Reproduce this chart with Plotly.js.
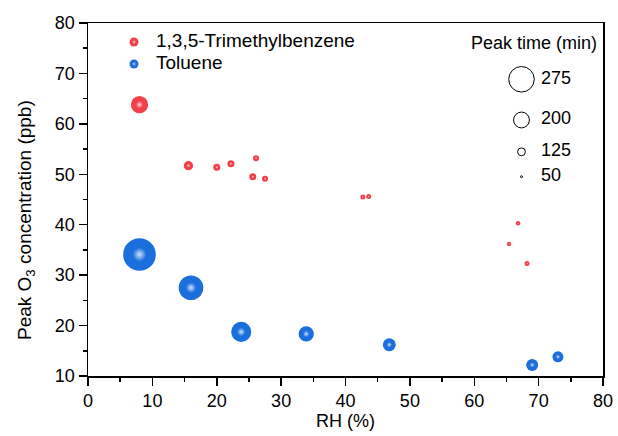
<!DOCTYPE html>
<html>
<head>
<meta charset="utf-8">
<script src="https://cdn.plot.ly/plotly-3.0.1.min.js"></script>
<style>html,body{margin:0;padding:0;background:#fff;}#chart{width:618px;height:436px;}</style>
</head>
<body>
<div id="chart"></div>
<script>
// ---- data ----
var tmbRH   = [8.0, 15.6, 20.0, 22.2, 26.1, 25.6, 27.5, 42.7, 43.6, 65.4, 66.8, 68.2];
var tmbO3   = [63.8, 51.7, 51.4, 52.1, 53.2, 49.5, 49.1, 45.5, 45.6, 36.2, 40.3, 32.3];
var tmbPeak = [212, 140, 116, 116, 105, 116, 105, 93, 93, 86, 86, 93];

var tolRH   = [8.0, 16.0, 23.8, 33.9, 46.8, 69.0, 73.0];
var tolO3   = [34.1, 27.5, 18.75, 18.35, 16.2, 12.2, 13.8];
var tolPeak = [324, 269, 234, 195, 175, 166, 157];

var sizeLegendValues = [275, 200, 125, 50];
var sizeLegendLabels = ['275', '200', '125', '50'];

var seriesNames = ['1,3,5-Trimethylbenzene', 'Toluene'];

// ---- styling helpers ----
function diam(t) { return 0.0056 * Math.pow(t, 1.5); }
function hiSize(t) { return 0.42 * diam(t); }
var FONT = 'Liberation Sans, Arial, Helvetica, sans-serif';
var RED = '#f0404a';
var BLUE = '#1a6fdd';
var HI = { type: 'radial', color: 'rgba(255,255,255,0.8)' };

// size-legend vertical stacking (pixel offsets within its box)
var gap = 20, sy = [], cur = 19.3;
for (var i = 0; i < sizeLegendValues.length; i++) {
  if (i > 0) cur += diam(sizeLegendValues[i-1]) / 2 + gap + diam(sizeLegendValues[i]) / 2;
  sy.push(cur);
}
var sx = sizeLegendValues.map(function(){ return 21.5; });
var tx = sizeLegendValues.map(function(){ return 41; });

// series legend rows (pixel offsets within its box)
var lgY = seriesNames.map(function(_, k){ return 10 + 22 * k; });
var lgX = seriesNames.map(function(){ return 14; });
var lgTX = seriesNames.map(function(){ return 36; });

var traces = [
  { x: tmbRH, y: tmbO3, mode: 'markers', type: 'scatter', name: seriesNames[0], showlegend: false,
    marker: { size: tmbPeak.map(diam), color: RED, opacity: 1, line: {width: 0} } },
  { x: tmbRH, y: tmbO3, mode: 'markers', type: 'scatter', showlegend: false, hoverinfo: 'skip',
    marker: { size: tmbPeak.map(hiSize), color: 'rgba(255,255,255,0)', opacity: 1, line: {width: 0}, gradient: HI } },
  { x: tolRH, y: tolO3, mode: 'markers', type: 'scatter', name: seriesNames[1], showlegend: false,
    marker: { size: tolPeak.map(diam), color: BLUE, opacity: 1, line: {width: 0} } },
  { x: tolRH, y: tolO3, mode: 'markers', type: 'scatter', showlegend: false, hoverinfo: 'skip',
    marker: { size: tolPeak.map(hiSize), color: 'rgba(255,255,255,0)', opacity: 1, line: {width: 0}, gradient: HI } },
  // series legend (drawn on its own small axes)
  { x: lgX, y: lgY, xaxis: 'x3', yaxis: 'y3', mode: 'markers', type: 'scatter', showlegend: false,
    hoverinfo: 'skip', marker: { size: 9, color: [RED, BLUE], opacity: 1, line: {width: 0} } },
  { x: lgX, y: lgY, xaxis: 'x3', yaxis: 'y3', mode: 'markers', type: 'scatter', showlegend: false,
    hoverinfo: 'skip', marker: { size: 4, color: 'rgba(255,255,255,0)', opacity: 1, line: {width: 0}, gradient: HI } },
  { x: lgTX, y: lgY, xaxis: 'x3', yaxis: 'y3', mode: 'text', type: 'scatter', showlegend: false,
    hoverinfo: 'skip', text: seriesNames, textposition: 'middle right',
    textfont: { family: FONT, size: 19, color: '#000' } },
  // size legend
  { x: sx, y: sy, xaxis: 'x2', yaxis: 'y2', mode: 'markers', type: 'scatter', showlegend: false,
    hoverinfo: 'skip',
    marker: { size: sizeLegendValues.map(diam), color: 'rgba(255,255,255,0)', opacity: 1,
              line: {color: '#000', width: 1} } },
  { x: tx, y: sy, xaxis: 'x2', yaxis: 'y2', mode: 'text', type: 'scatter', showlegend: false,
    hoverinfo: 'skip', text: sizeLegendLabels, textposition: 'middle right',
    textfont: { family: FONT, size: 18, color: '#000' } }
];

var axisCommon = {
  showgrid: false, zeroline: false, showline: true, linewidth: 1.5, linecolor: '#000',
  mirror: true, ticks: 'outside', ticklen: 8, tickwidth: 1.5, tickcolor: '#000',
  tickfont: { family: FONT, size: 18, color: '#000' },
  minor: { ticks: 'outside', ticklen: 4, tickwidth: 1.5, tickcolor: '#000', dtick: 5, showgrid: false }
};
var hiddenAxis = { visible: false, fixedrange: true, showgrid: false, zeroline: false };

var layout = {
  width: 618, height: 436,
  margin: { l: 88, r: 15, t: 23, b: 60 },
  paper_bgcolor: '#fff', plot_bgcolor: 'rgba(0,0,0,0)',
  font: { family: FONT, color: '#000' },
  showlegend: false,
  xaxis: Object.assign({}, axisCommon, {
    range: [0, 80], dtick: 10, tick0: 0,
    title: { text: 'RH (%)', font: { family: FONT, size: 18, color: '#000' }, standoff: 2 }
  }),
  yaxis: Object.assign({}, axisCommon, {
    range: [10, 80], dtick: 10, tick0: 10
  }),
  xaxis2: Object.assign({}, hiddenAxis, { domain: [(500 - 88) / 515, 1], range: [0, 103], anchor: 'y2' }),
  yaxis2: Object.assign({}, hiddenAxis, { domain: [(376 - 190) / 353, (376 - 60) / 353], range: [130, 0], anchor: 'x2' }),
  xaxis3: Object.assign({}, hiddenAxis, { domain: [(120 - 88) / 515, (400 - 88) / 515], range: [0, 280], anchor: 'y3' }),
  yaxis3: Object.assign({}, hiddenAxis, { domain: [(376 - 82) / 353, (376 - 32) / 353], range: [50, 0], anchor: 'x3' }),
  annotations: [
    { text: 'Peak time (min)', xref: 'paper', yref: 'paper', x: (599 - 88) / 515, y: (376 - 43) / 353,
      xanchor: 'right', yanchor: 'middle', showarrow: false,
      font: { family: FONT, size: 18, color: '#000' } },
    { text: 'Peak O<sub>3</sub> concentration (ppb)', xref: 'paper', yref: 'paper',
      x: (26 - 88) / 515, y: (376 - 220) / 353, xanchor: 'center', yanchor: 'middle',
      textangle: -90, showarrow: false, font: { family: FONT, size: 19, color: '#000' } }
  ]
};

Plotly.newPlot('chart', traces, layout, { displayModeBar: false, staticPlot: true });
</script>
</body>
</html>
